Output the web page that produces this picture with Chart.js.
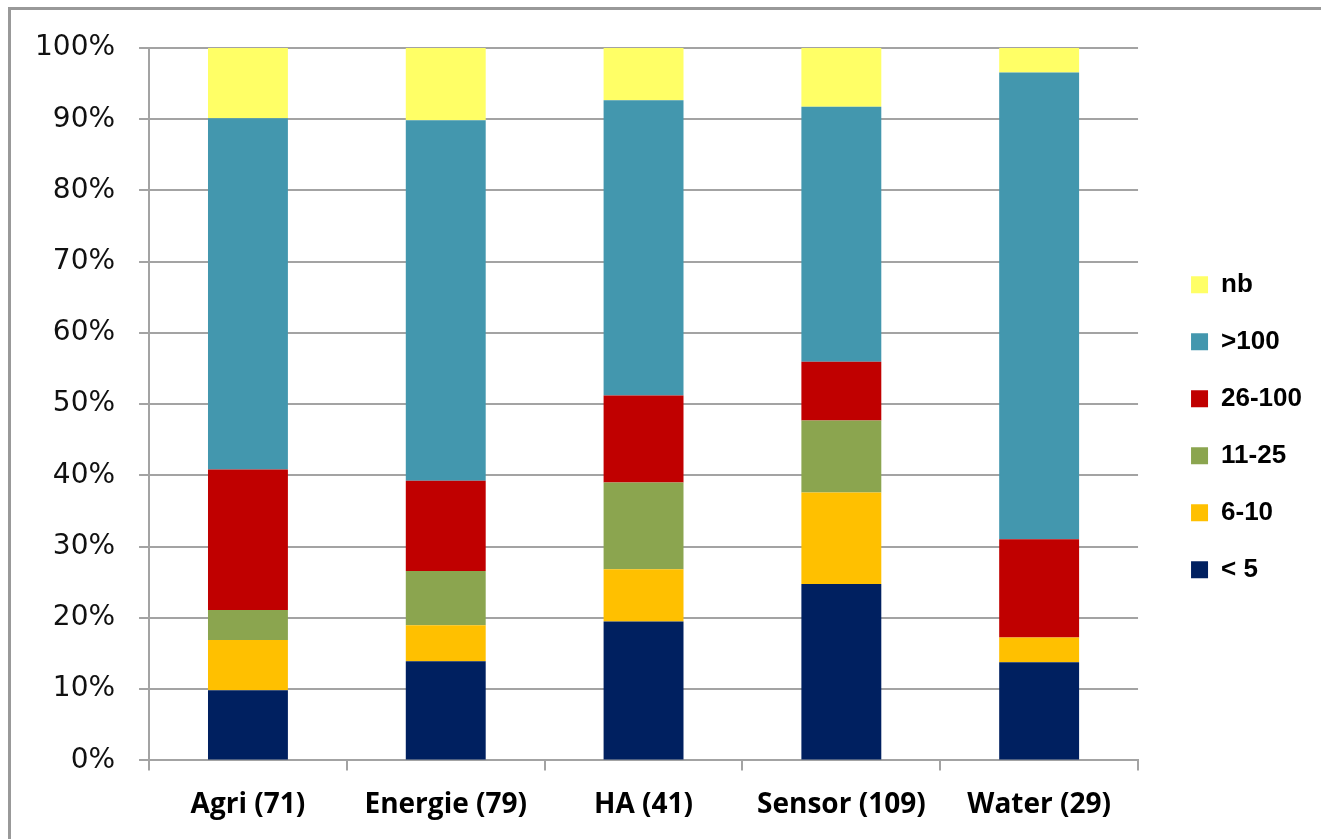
<!DOCTYPE html>
<html>
<head>
<meta charset="utf-8">
<script src="https://cdn.jsdelivr.net/npm/chart.js@4.4.1/dist/chart.umd.min.js"></script>
<style>
  body { margin: 0; background: #fff; }
  #wrap { position: relative; width: 1321px; height: 839px; }
  #frame { position: absolute; left: 8px; top: 7px; right: -10px; bottom: -10px;
           border-left: 3px solid #999; border-top: 3px solid #999; pointer-events: none; }
</style>
</head>
<body>
<div id="wrap">
  <canvas id="chart" width="1321" height="839"></canvas>
  <div id="frame"></div>
</div>
<script>
// counts per category (stacked to 100%)
const categories = ["Agri (71)", "Energie (79)", "HA (41)", "Sensor (109)", "Water (29)"];
const under5   = [7, 11, 8, 27, 4];
const s6to10   = [5, 4, 3, 14, 1];
const s11to25  = [3, 6, 5, 11, 0];
const s26to100 = [14, 10, 5, 9, 4];
const over100  = [35, 40, 17, 39, 19];
const nb       = [7, 8, 3, 9, 1];
const yTicks = [0, 10, 20, 30, 40, 50, 60, 70, 80, 90, 100];

const series = [
    { label: "< 5",    data: under5,   color: "#002060" },
    { label: "6-10",   data: s6to10,   color: "#ffc000" },
    { label: "11-25",  data: s11to25,  color: "#8ba54f" },
    { label: "26-100", data: s26to100, color: "#c00000" },
    { label: ">100",   data: over100,  color: "#4397ae" },
    { label: "nb",     data: nb,       color: "#ffff66" }
];

const totals = categories.map((c, i) => series.reduce((s, d) => s + d.data[i], 0));

const gridColor = "#a3a3a3";

new Chart(document.getElementById("chart").getContext("2d"), {
    type: "bar",
    data: {
        labels: categories,
        datasets: series.map(s => ({
            label: s.label,
            data: s.data.map((v, i) => v / totals[i] * 100),
            backgroundColor: s.color,
            borderWidth: 0,
            categoryPercentage: 1,
            barPercentage: 0.404
        }))
    },
    options: {
        responsive: false,
        animation: false,
        layout: { padding: { left: 11, top: 48, right: 9, bottom: -1 } },
        plugins: {
            tooltip: { enabled: false },
            legend: {
                position: "right",
                fullSize: false,
                reverse: true,
                title: { display: true, text: " ", font: { size: 10 }, padding: { top: 17, bottom: 17 } },
                labels: {
                    boxWidth: 17,
                    boxHeight: 17,
                    padding: 31,
                    color: "#000",
                    font: { family: "Liberation Sans", size: 26, weight: "bold" }
                }
            }
        },
        scales: {
            x: {
                stacked: true,
                grid: { drawOnChartArea: false, drawTicks: true, tickLength: 10, color: gridColor, lineWidth: 2, offset: true },
                border: { color: gridColor, width: 2 },
                ticks: { color: "#000", padding: 18, font: { family: "Open Sans", size: 28, weight: "bold" } }
            },
            y: {
                stacked: true,
                min: 0,
                max: 100,
                afterBuildTicks: s => { s.ticks = yTicks.map(v => ({ value: v })); },
                grid: { color: gridColor, lineWidth: 2, tickLength: 10 },
                border: { color: gridColor, width: 2 },
                ticks: { color: "#111", padding: 24, callback: v => v + "%", font: { family: "DejaVu Sans", size: 28 } }
            },
            y2: {
                position: "right",
                display: true,
                grid: { display: false },
                border: { display: false },
                ticks: { display: false },
                afterFit: s => { s.width = 22; }
            }
        }
    }
});
</script>
</body>
</html>
